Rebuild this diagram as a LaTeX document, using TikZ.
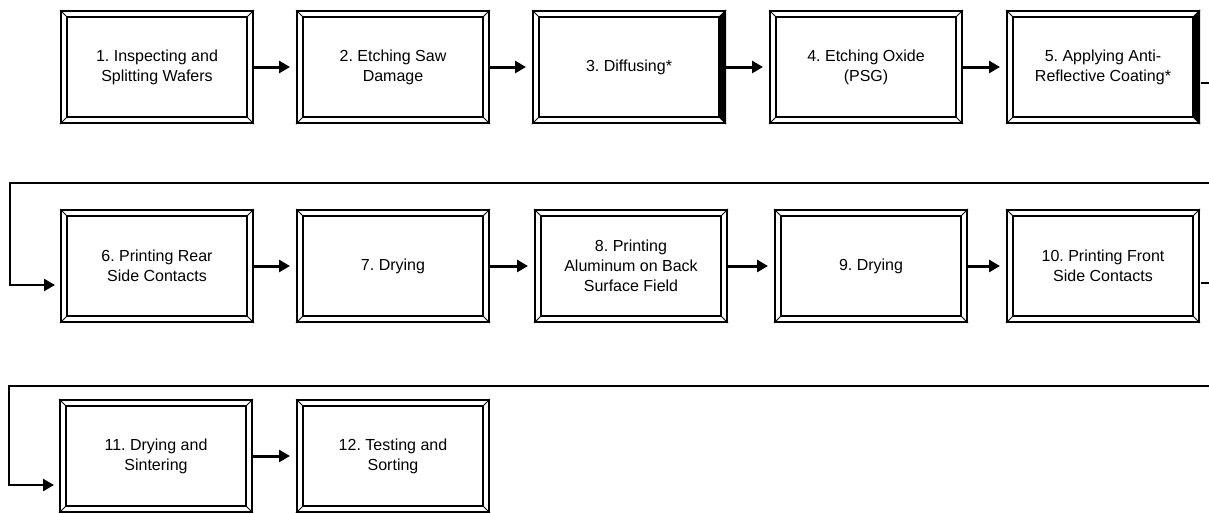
\documentclass[tikz,border=0pt]{standalone}
\usepackage{fontspec}
\setmainfont{Liberation Sans}
\usetikzlibrary{arrows.meta}
\frenchspacing
\tikzset{
  stepbox/.style={minimum width=192pt, minimum height=112pt, inner sep=0pt,
    draw, line width=2pt, align=center, font=\fontsize{16}{20}\selectfont},
  frame/.style={line width=1.8pt},
  diag/.style={line width=1pt},
  flow/.style={line width=3pt, -{Triangle[length=11pt,width=12pt]}},
  ret/.style={line width=2.5pt, -{Triangle[length=11pt,width=12pt]}}
}
\newcommand\bevelbox[1]{%
  \draw[frame] ([shift={(7,7)}]#1.north west) rectangle ([shift={(-7,-7)}]#1.south east);
  \draw[diag] (#1.north west) -- ([shift={(7,7)}]#1.north west)
    (#1.north east) -- ([shift={(-7,7)}]#1.north east)
    (#1.south west) -- ([shift={(7,-7)}]#1.south west)
    (#1.south east) -- ([shift={(-7,-7)}]#1.south east);}
\newcommand\darkside[1]{%
  \fill (#1.north east) -- ([shift={(-7,7)}]#1.north east) -- ([shift={(-7,-7)}]#1.south east) -- (#1.south east) -- cycle;}
\begin{document}
\begin{tikzpicture}[x=1pt,y=-1pt]
\useasboundingbox (0,0) rectangle (1209,512);
\clip (0,0) rectangle (1209,512);
% row 1
\node[stepbox] (n1) at (157,67) {1. Inspecting and\\Splitting Wafers};
\node[stepbox] (n2) at (393,67) {2. Etching Saw\\Damage};
\node[stepbox] (n3) at (629,67) {3. Diffusing*};
\node[stepbox] (n4) at (866,67) {4. Etching Oxide\\(PSG)};
\node[stepbox] (n5) at (1103,67) {5. Applying Anti-\\Reflective Coating*};
% row 2
\node[stepbox] (n6) at (157,266) {6. Printing Rear\\Side Contacts};
\node[stepbox] (n7) at (393,266) {7. Drying};
\node[stepbox] (n8) at (631,266) {8. Printing\\Aluminum on Back\\Surface Field};
\node[stepbox] (n9) at (871,266) {9. Drying};
\node[stepbox] (n10) at (1103,266) {10. Printing Front\\Side Contacts};
% row 3
\node[stepbox] (n11) at (156,456) {11. Drying and\\Sintering};
\node[stepbox] (n12) at (393,456) {12. Testing and\\Sorting};
\foreach \n in {n1,n2,n3,n4,n5,n6,n7,n8,n9,n10,n11,n12} {\bevelbox{\n}}
\darkside{n3}
\darkside{n5}
% arrows within rows
\draw[flow] (n1.east) -- ([xshift=-6pt]n2.west);
\draw[flow] (n2.east) -- ([xshift=-6pt]n3.west);
\draw[flow] (n3.east) -- ([xshift=-6pt]n4.west);
\draw[flow] (n4.east) -- ([xshift=-6pt]n5.west);
\draw[flow] (n6.east) -- ([xshift=-6pt]n7.west);
\draw[flow] (n7.east) -- ([xshift=-6pt]n8.west);
\draw[flow] (n8.east) -- ([xshift=-6pt]n9.west);
\draw[flow] (n9.east) -- ([xshift=-6pt]n10.west);
\draw[flow] (n11.east) -- ([xshift=-6pt]n12.west);
% return connectors
\coordinate (o5) at (1201,83);
\coordinate (r1) at (1220,183);
\coordinate (l1) at (10,183);
\coordinate (i6) at (55,285);
\draw[ret] (o5) -| (r1) -- (l1) |- (i6);
\coordinate (o10) at (1201,283);
\coordinate (r2) at (1220,386);
\coordinate (l2) at (9,386);
\coordinate (i11) at (54,485);
\draw[ret] (o10) -| (r2) -- (l2) |- (i11);
\end{tikzpicture}
\end{document}
